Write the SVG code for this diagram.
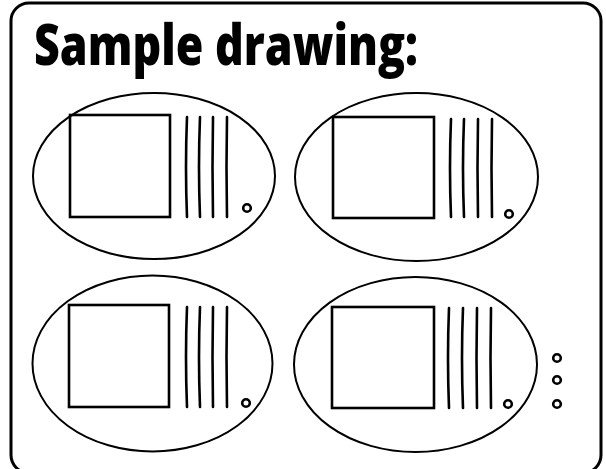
<svg xmlns="http://www.w3.org/2000/svg" width="606" height="469" viewBox="0 0 606 469">
<style>
.frame{fill:none;stroke:#000;stroke-width:3}
.title{font-family:"Open Sans","DejaVu Sans",sans-serif;font-weight:800;font-size:56px;fill:#000}
.ell{fill:none;stroke:#000;stroke-width:2}
.sq{fill:none;stroke:#000;stroke-width:2.6}
.ln{fill:none;stroke:#000;stroke-width:2.6;stroke-linecap:round}
.dot{fill:none;stroke:#000;stroke-width:2.6}
</style>
<rect class="frame" x="11" y="3" width="590" height="470" rx="18"/>
<text class="title" x="34" y="65" textLength="384" lengthAdjust="spacingAndGlyphs">Sample drawing:</text>
<g id="node-top-left">
<ellipse class="ell" cx="154" cy="176" rx="121" ry="83"/>
<rect class="sq" x="70" y="115" width="100" height="102"/>
<path class="ln" d="M187 117Q185 167 187 217M200 117Q198 167 200 217M213 117Q212 167 213 217M227 117Q226 167 227 217"/>
<circle class="dot" cx="247" cy="208" r="3.8"/>
</g>
<g id="node-top-right">
<ellipse class="ell" cx="416.5" cy="177" rx="121.5" ry="84"/>
<rect class="sq" x="333" y="117" width="101" height="101"/>
<path class="ln" d="M451 119Q449 168 451 217M464 119Q462 168 464 217M478 119Q477 168 478 217M492 119Q491 168 492 217"/>
<circle class="dot" cx="509" cy="214" r="3.8"/>
</g>
<g id="node-bottom-left">
<ellipse class="ell" cx="152.5" cy="363.5" rx="120" ry="88"/>
<rect class="sq" x="69" y="305" width="100" height="102"/>
<path class="ln" d="M187 307Q185 357 187 407M200 307Q198 357 200 407M213 307Q212 357 213 407M227 307Q226 357 227 407"/>
<circle class="dot" cx="246" cy="403" r="3.8"/>
</g>
<g id="node-bottom-right">
<ellipse class="ell" cx="415.5" cy="364.5" rx="121.5" ry="87.5"/>
<rect class="sq" x="332" y="307" width="102" height="101"/>
<path class="ln" d="M449 308Q447 358 449 408M463 308Q461 358 463 408M477 308Q476 358 477 408M491 308Q490 358 491 408"/>
<circle class="dot" cx="508" cy="404" r="3.8"/>
</g>
<g id="ellipsis">
<circle class="dot" cx="557" cy="358" r="3.8"/>
<circle class="dot" cx="557" cy="380" r="3.8"/>
<circle class="dot" cx="557" cy="404" r="3.8"/>
</g>
<g id="connectors"/>
</svg>
